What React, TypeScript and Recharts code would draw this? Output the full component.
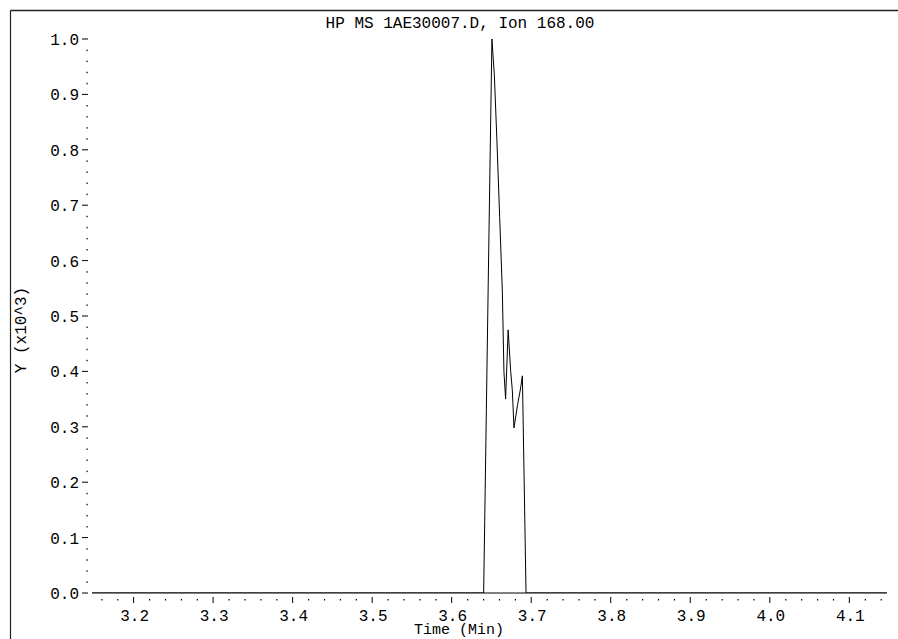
import React from "react";
import { LineChart, Line, XAxis, YAxis } from "recharts";

// Retention time (min)
const times: number[] = [
  3.148, 3.4, 3.6402, 3.6436, 3.6469, 3.6506, 3.6537, 3.6569, 3.6603, 3.6637,
  3.6657, 3.6678, 3.671, 3.6742, 3.6763, 3.6783, 3.6829, 3.6867, 3.6889,
  3.6935, 3.9, 4.147,
];
// Abundance (counts)
const abundance: number[] = [
  0, 0, 0, 330, 650, 1000, 933, 816, 680, 545, 400, 350, 475, 400, 365, 298,
  340, 370, 392, 0, 0, 0,
];

const xMajorTicks: number[] = [3.2, 3.3, 3.4, 3.5, 3.6, 3.7, 3.8, 3.9, 4.0, 4.1];
const xMinorOffsets: number[] = [-0.04, -0.02, 0.02, 0.04];
const yMajorTicks: number[] = [0, 100, 200, 300, 400, 500, 600, 700, 800, 900, 1000];
const yMinorOffsets: number[] = [20, 40, 60, 80];

const title = "HP MS 1AE30007.D, Ion 168.00";
const xLabel = "Time (Min)";
const yLabel = "Y (x10^3)";

const FONT = "'Liberation Mono', 'DejaVu Sans Mono', monospace";

const data = times.map((t, i) => ({ t, v: abundance[i] }));

const xTicks: number[] = Array.from(
  new Set(
    xMajorTicks
      .flatMap((m) => [m, ...xMinorOffsets.map((o) => m + o)])
      .map((v) => Math.round(v * 100) / 100)
      .filter((v) => v > 3.148 && v < 4.147)
  )
).sort((a, b) => a - b);

const yTicks: number[] = Array.from(
  new Set(
    yMajorTicks.flatMap((m) => [m, ...yMinorOffsets.map((o) => m + o)]).filter((v) => v <= 1000)
  )
).sort((a, b) => a - b);

const XTick = (props: any) => {
  const { x, y, payload } = props;
  const v = payload.value as number;
  const major = Math.abs(v * 10 - Math.round(v * 10)) < 1e-6;
  if (major) {
    return (
      <g>
        <line x1={x} x2={x} y1={y + 4} y2={y + 10} stroke="#000" strokeWidth={1} />
        <text x={x + 1} y={y + 28} textAnchor="middle" fontFamily={FONT} fontSize={16} fill="#000">
          {v.toFixed(1)}
        </text>
      </g>
    );
  }
  return <rect x={x - 0.5} y={y + 6} width={1.2} height={1.5} fill="#000" />;
};

const YTick = (props: any) => {
  const { x, y, payload } = props;
  const v = payload.value as number;
  const major = v % 100 === 0;
  if (major) {
    return (
      <g>
        <line x1={x - 10} x2={x - 4} y1={y} y2={y} stroke="#000" strokeWidth={1} />
        <text x={x - 13} y={y + 6} textAnchor="end" fontFamily={FONT} fontSize={16} fill="#000">
          {(v / 1000).toFixed(1)}
        </text>
      </g>
    );
  }
  return <rect x={x - 5.5} y={y - 0.5} width={1.2} height={1.5} fill="#000" />;
};

export default function App() {
  return (
    <div style={{ position: "relative", width: 898, height: 639, overflow: "hidden", background: "#fff" }}>
      <style>{`body{margin:0;}`}</style>
      <LineChart
        width={898}
        height={639}
        data={data}
        margin={{ top: 39, right: 11, left: 0, bottom: 0 }}
      >
        <XAxis
          dataKey="t"
          type="number"
          domain={[3.1477, 4.1474]}
          allowDataOverflow
          ticks={xTicks}
          interval={0}
          height={46}
          tickSize={0}
          tickMargin={0}
          tickLine={false}
          axisLine={{ stroke: "#000", strokeWidth: 1 }}
          tick={<XTick />}
        />
        <YAxis
          type="number"
          domain={[0, 1000]}
          allowDataOverflow
          ticks={yTicks}
          interval={0}
          width={92}
          tickSize={0}
          tickMargin={0}
          tickLine={false}
          axisLine={false}
          tick={<YTick />}
        />
        <Line
          type="linear"
          dataKey="v"
          stroke="#000"
          strokeWidth={1}
          dot={false}
          isAnimationActive={false}
        />
      </LineChart>
      <svg
        width={898}
        height={639}
        style={{ position: "absolute", left: 0, top: 0, pointerEvents: "none" }}
      >
        <line x1={10.5} y1={10.5} x2={898} y2={10.5} stroke="#222" strokeWidth={1.5} />
        <line x1={10.5} y1={10.5} x2={10.5} y2={639} stroke="#222" strokeWidth={1.2} />
        <text x={460} y={28} textAnchor="middle" fontFamily={FONT} fontSize={16} fill="#000">
          {title}
        </text>
        <text x={459} y={634} textAnchor="middle" fontFamily={FONT} fontSize={15} fill="#000">
          {xLabel}
        </text>
        <text
          x={0}
          y={0}
          transform="translate(26,330) rotate(-90)"
          textAnchor="middle"
          fontFamily={FONT}
          fontSize={16}
          fill="#000"
        >
          {yLabel}
        </text>
      </svg>
    </div>
  );
}
